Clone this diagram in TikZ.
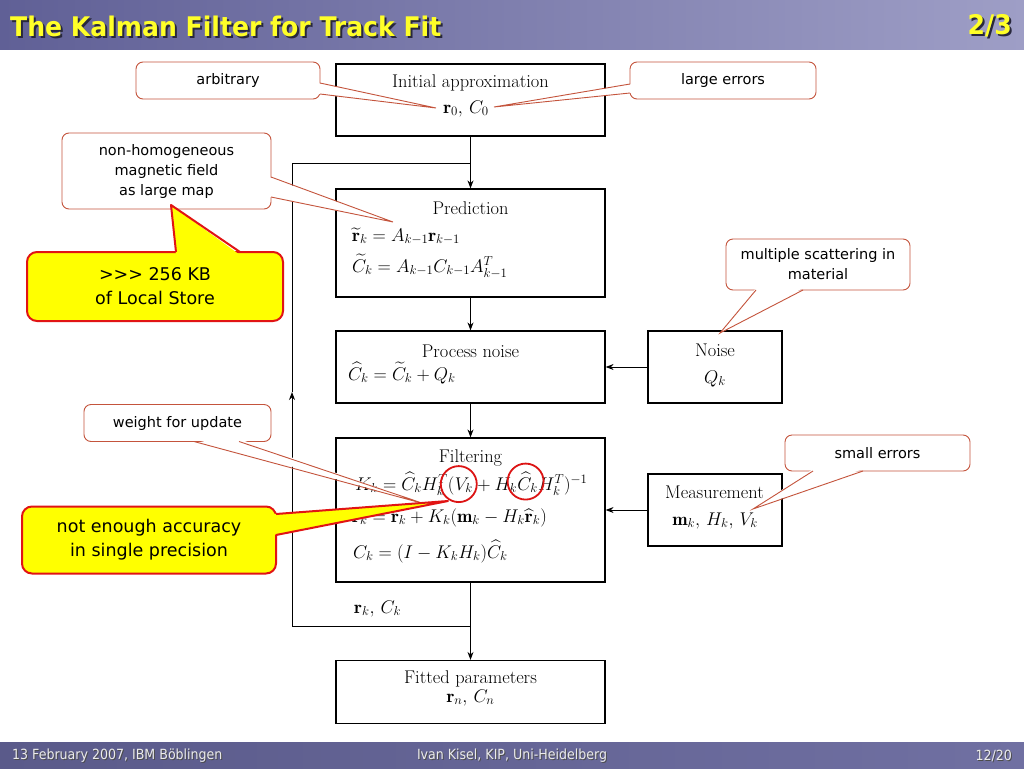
\RequirePackage{fix-cm}
\documentclass[tikz,border=0pt]{standalone}
\usepackage{amsmath}
\usepackage{fontspec}
\usetikzlibrary{arrows.meta}
\newfontfamily\calfont{DejaVu Sans}
\newfontfamily\ttlfont{DejaVu Sans}[FakeStretch=0.93]
\newfontfamily\footfont{DejaVu Sans}[FakeStretch=0.9]
\definecolor{tbl}{RGB}{96,96,150}
\definecolor{tbr}{RGB}{158,158,198}
\definecolor{fbl}{RGB}{90,90,138}
\definecolor{fbr}{RGB}{112,112,162}
\definecolor{ttl}{RGB}{255,255,40}
\definecolor{tsh}{RGB}{40,40,60}
\definecolor{cbrd}{RGB}{196,84,60}
\definecolor{yel}{RGB}{255,255,0}
\definecolor{yred}{RGB}{225,20,20}
\definecolor{rcirc}{RGB}{220,20,20}
\definecolor{ftxt}{RGB}{235,235,235}
\tikzset{
  box/.style={draw=black, line width=1.2pt, fill=white, inner sep=0pt},
  mtext/.style={font=\fontsize{18.4}{22}\selectfont, inner sep=0pt, anchor=base},
  mleft/.style={mtext, anchor=base west},
  arr/.style={-{Stealth[length=8pt,width=6pt]}, line width=1pt},
  lin/.style={line width=1pt},
  call/.style={draw=cbrd, line width=0.9pt, fill=white, rounded corners=7pt,
    font=\calfont\fontsize{14.5}{20}\selectfont, align=center, inner sep=0pt},
  ctail/.style={draw=cbrd, line width=0.9pt},
  ycall/.style={draw=yred, line width=2pt, fill=yel, rounded corners=10pt,
    font=\calfont\fontsize{17.5}{24}\selectfont, align=center, inner sep=0pt},
  ytail/.style={draw=yred, line width=2pt, line join=round},
  rring/.style={circle, draw=rcirc, line width=1.8pt, minimum size=36pt, inner sep=0pt},
  foot/.style={font=\footfont\fontsize{14}{16}\selectfont, inner sep=0pt},
  ttlstyle/.style={font=\ttlfont\bfseries\fontsize{27}{30}\selectfont, inner sep=0pt},
}
\begin{document}
\begin{tikzpicture}[x=1pt,y=-1pt]
\useasboundingbox (0,0) rectangle (1024,768);
\fill[white] (0,0) rectangle (1024,768);
% header and footer bars
\shade[left color=tbl, right color=tbr] (0,0) rectangle (1024,50);
\shade[left color=fbl, right color=fbr] (0,742) rectangle (1024,768);
\node[ttlstyle, anchor=west, text=tsh] (titlesh) at (12,28) {The Kalman Filter for Track Fit};
\node[ttlstyle, anchor=west, text=ttl] (title) at (10,26) {The Kalman Filter for Track Fit};
\node[ttlstyle, anchor=east, text=tsh] (pagesh) at (1014,28) {2/3};
\node[ttlstyle, anchor=east, text=ttl] (page) at (1012,26) {2/3};
\node[foot, anchor=west, text=black!70] (f1s) at (13,757) {13 February 2007, IBM Böblingen};
\node[foot, anchor=west, text=ftxt] (f1) at (12,756) {13 February 2007, IBM Böblingen};
\node[foot, text=black!70] (f2s) at (513,757) {Ivan Kisel, KIP, Uni-Heidelberg};
\node[foot, text=ftxt] (f2) at (512,756) {Ivan Kisel, KIP, Uni-Heidelberg};
\node[foot, anchor=east, text=black!70] (f3s) at (1013,757) {12/20};
\node[foot, anchor=east, text=ftxt] (f3) at (1012,756) {12/20};

% boxes
\node[box, minimum width=269pt, minimum height=72pt] (init) at (470.5,100) {};
\node[box, minimum width=269pt, minimum height=108pt] (pred) at (470.5,243) {};
\node[box, minimum width=269pt, minimum height=72pt] (proc) at (470.5,367) {};
\node[box, minimum width=269pt, minimum height=144pt] (filt) at (470.5,510) {};
\node[box, minimum width=134pt, minimum height=72pt] (noise) at (715,367) {};
\node[box, minimum width=134pt, minimum height=72pt] (meas) at (715,510) {};
\node[box, minimum width=269pt, minimum height=63pt] (fit) at (470.5,692) {};

% box texts
\node[mtext] (t1) at (470.5,87) {Initial approximation};
\node[mtext] (t1b) at (466,113) {$\mathbf{r}_0,\,C_0$};
\node[mtext] (t2) at (470.5,214) {Prediction};
\node[mleft] (t2a) at (352,241) {$\widetilde{\mathbf{r}}_k = A_{k-1}\mathbf{r}_{k-1}$};
\node[mleft] (t2b) at (352,272) {$\widetilde{C}_k = A_{k-1}C_{k-1}A_{k-1}^T$};
\node[mtext] (t3) at (470.5,357) {Process noise};
\node[mleft] (t3a) at (348,380) {$\widehat{C}_k = \widetilde{C}_k + Q_k$};
\node[mtext] (t4) at (470.5,462) {Filtering};
\node[mleft] (k1) at (355,490) {$K_k = \widehat{C}_k H_k^T ($};
\node[mleft] (kv) at (k1.base east) {$V_k$};
\node[mleft] (k2) at (kv.base east) {${}+ H_k$};
\node[mleft] (kc) at (k2.base east) {$\widehat{C}_k$};
\node[mleft] (k3) at (kc.base east) {$H_k^T)^{-1}$};
\node[mleft] (t4b) at (352,522) {$\mathbf{r}_k = \widehat{\mathbf{r}}_k + K_k(\mathbf{m}_k - H_k\widehat{\mathbf{r}}_k)$};
\node[mleft] (t4c) at (353,558) {$C_k = (I - K_k H_k)\widehat{C}_k$};
\node[mtext] (t5) at (715,356) {Noise};
\node[mtext] (t5a) at (715,383) {$Q_k$};
\node[mtext] (t6) at (714.5,498) {Measurement};
\node[mtext] (t6a) at (715,525) {$\mathbf{m}_k,\,H_k,\,V_k$};
\node[mtext] (t7) at (470.5,683) {Fitted parameters};
\node[mtext] (t7a) at (470.5,702) {$\mathbf{r}_n,\,C_n$};
\node[mleft] (t8) at (354,613) {$\mathbf{r}_k,\,C_k$};

% connectors
\coordinate (j2) at (470.5,163);
\coordinate (j1) at (470.5,626);
\coordinate (c1) at (292,626);
\coordinate (ca) at (292,392);
\coordinate (c2) at (292,163);
\draw[arr] (init.south) -- (pred.north);
\draw[arr] (pred.south) -- (proc.north);
\draw[arr] (proc.south) -- (filt.north);
\draw[arr] (filt.south) -- (fit.north);
\draw[arr] (noise.west) -- (proc.east);
\draw[arr] (meas.west) -- (filt.east);
\draw[lin] (j1) -- (c1);
\draw[arr] (c1) -- (ca);
\draw[lin] (ca) -- (c2) -- (j2);

% red circles
\node[rring] (ring1) at ([xshift=-5pt,yshift=1pt]kv.center) {};
\node[rring] (ring2) at ([xshift=-2pt,yshift=1pt]kc.center) {};

% callout: arbitrary
\node[call, minimum width=184pt, minimum height=37pt] (arb) at (228,80.5) {arbitrary};
\coordinate (arbtip) at (436,108);
\fill[white] (318,83) -- (arbtip) -- (318,94) -- cycle;
\draw[ctail] (320,83) -- (arbtip) -- (320,94);

% callout: large errors
\node[call, minimum width=186pt, minimum height=37pt] (lerr) at (723,80.5) {large errors};
\coordinate (lerrtip) at (494,107);
\fill[white] (632,84) -- (lerrtip) -- (632,93) -- cycle;
\draw[ctail] (630,84) -- (lerrtip) -- (630,93);

% callout: magnetic field
\node[call, minimum width=209pt, minimum height=76pt] (mag) at (166.5,171) {non-homogeneous\\magnetic field\\as large map};
\coordinate (magtip) at (393,222);
\fill[white] (269,177) -- (magtip) -- (269,197) -- cycle;
\draw[ctail] (271,177) -- (magtip) -- (271,197);

% callout: multiple scattering
\node[call, minimum width=184pt, minimum height=51pt] (msc) at (818,264.5) {multiple scattering in\\material};
\coordinate (msctip) at (720,333);
\fill[white] (756,288) -- (msctip) -- (803,288) -- cycle;
\draw[ctail] (756,290) -- (msctip) -- (803,290);

% callout: small errors
\node[call, minimum width=185pt, minimum height=36pt] (serr) at (877.5,453) {small errors};
\coordinate (serrtip) at (753,509);
\fill[white] (813,469) -- (serrtip) -- (863,469) -- cycle;
\draw[ctail] (813,471) -- (serrtip) -- (863,471);

% callout: weight for update
\node[call, minimum width=187pt, minimum height=37pt] (wgt) at (177.5,423) {weight for update};
\coordinate (wgttip) at (425,504);
\fill[white] (194,439) -- (wgttip) -- (239,439) -- cycle;
\draw[ctail] (194,441.5) -- (wgttip) -- (239,441.5);

% yellow callout: local store
\node[ycall, minimum width=256pt, minimum height=69pt] (ls) at (155,286.5) {>>> 256 KB\\of Local Store};
\coordinate (lstip) at (171,205);
\fill[yel] (176,255) -- (lstip) -- (240,255) -- cycle;
\draw[ytail] (176,252) -- (lstip) -- (240,252);

% yellow callout: accuracy
\node[ycall, minimum width=254pt, minimum height=67pt] (acc) at (149,540) {not enough accuracy\\in single precision};
\coordinate (acctip) at (448,501);
\fill[yel] (273,514) -- (acctip) -- (273,535) -- cycle;
\draw[ytail] (276,514) -- (acctip) -- (276,535);
\end{tikzpicture}
\end{document}
